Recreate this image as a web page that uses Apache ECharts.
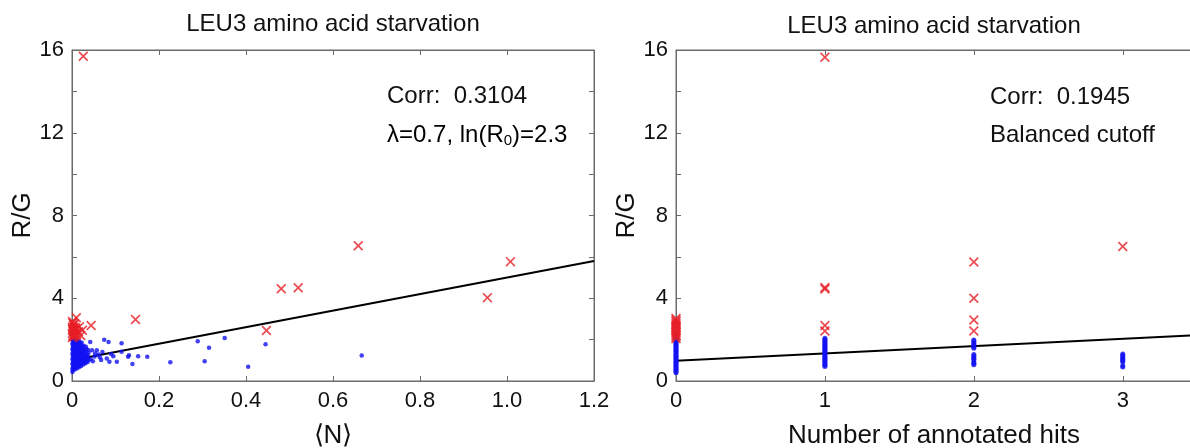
<!DOCTYPE html>
<html>
<head>
<meta charset="utf-8">
<style>
    html, body { margin: 0; padding: 0; background: #fff; }
    #chart { width: 1190px; height: 448px; }
</style>
</head>
<body>
<div id="chart"></div>
<script src="https://cdn.jsdelivr.net/npm/echarts@6/dist/echarts.min.js"></script>
<script>
    // left panel: <N> vs R/G
    var leftBlue = [
        [0.001,0.43],[0.002,0.52],[0.001,0.61],[0.003,0.68],[0.002,0.77],[0.001,0.84],[0.003,0.93],[0.002,1.01],
        [0.001,1.08],[0.003,1.17],[0.002,1.24],[0.001,1.33],[0.003,1.41],[0.002,1.49],[0.001,1.56],[0.003,1.64],
        [0.002,1.73],[0.001,1.81],[0.003,1.88],[0.002,1.97],[0.001,2.05],[0.003,2.12],[0.002,2.19],
        [0.006,0.55],[0.007,0.63],[0.006,0.72],[0.008,0.80],[0.007,0.88],[0.006,0.96],[0.008,1.04],[0.007,1.12],
        [0.006,1.20],[0.008,1.29],[0.007,1.37],[0.006,1.45],[0.008,1.53],[0.007,1.61],[0.006,1.70],[0.008,1.78],
        [0.007,1.86],[0.006,1.94],[0.008,2.02],[0.007,2.10],
        [0.011,0.60],[0.012,0.69],[0.011,0.78],[0.013,0.86],[0.012,0.94],[0.011,1.02],[0.013,1.10],[0.012,1.19],
        [0.011,1.27],[0.013,1.35],[0.012,1.43],[0.011,1.52],[0.013,1.60],[0.012,1.68],[0.011,1.77],[0.013,1.85],
        [0.012,1.93],[0.011,2.02],
        [0.016,0.66],[0.017,0.75],[0.018,0.84],[0.016,0.92],[0.017,1.00],[0.018,1.09],[0.016,1.17],[0.017,1.26],
        [0.018,1.34],[0.016,1.42],[0.017,1.51],[0.018,1.59],[0.016,1.67],[0.017,1.76],[0.018,1.85],[0.016,1.93],
        [0.021,0.73],[0.022,0.82],[0.023,0.90],[0.021,0.99],[0.022,1.07],[0.023,1.16],[0.021,1.24],[0.022,1.33],
        [0.023,1.41],[0.021,1.50],[0.022,1.59],[0.023,1.68],[0.021,1.77],[0.022,1.86],
        [0.026,0.80],[0.027,0.89],[0.028,0.98],[0.026,1.06],[0.027,1.15],[0.028,1.24],[0.026,1.32],[0.027,1.41],
        [0.028,1.50],[0.026,1.60],[0.027,1.70],
        [0.031,0.86],[0.033,0.95],[0.032,1.04],[0.031,1.13],[0.033,1.22],[0.032,1.31],[0.031,1.42],[0.033,1.55],
        [0.032,1.66],
        [0.036,0.92],[0.038,1.02],[0.037,1.12],[0.036,1.25],[0.038,1.36],[0.037,1.50],
        [0.042,1.89],[0.046,1.49],[0.053,1.33],[0.057,1.49],[0.043,1.05],[0.048,0.95],[0.052,1.18],[0.061,1.28],
        [0.067,1.01],[0.074,2.00],[0.080,1.09],[0.084,1.89],[0.086,0.93],[0.070,1.40],[0.064,1.15],[0.090,1.30],
        [0.095,1.20],[0.103,0.93],[0.114,1.41],[0.114,1.82],[0.129,1.17],[0.131,1.24],[0.139,0.82],[0.152,1.20],
        [0.173,1.17],[0.226,0.91],[0.289,1.92],[0.305,0.96],[0.315,1.61],[0.351,2.08],[0.405,0.69],[0.445,1.78],
        [0.666,1.23]
    ];
    var leftRed = [
        [0.026,15.7],[0.658,6.54],[1.008,5.77],[0.955,4.03],[0.481,4.46],[0.520,4.51],[0.447,2.44],[0.146,2.97],
        [0.044,2.68],[0.010,3.06],[0.017,2.62],[0.015,2.38],[0.008,2.50],
        [0.001,2.10],[0.002,2.20],[0.001,2.30],[0.003,2.40],[0.002,2.50],[0.001,2.60],[0.003,2.70],[0.002,2.80],
        [0.001,2.88],[0.005,2.15],[0.006,2.28],[0.005,2.45],[0.006,2.60],[0.005,2.75],[0.009,2.20],[0.010,2.35],
        [0.009,2.55],[0.011,2.25],[0.020,2.20],[0.024,2.45]
    ];
    var leftFit = [[0, 1.0], [1.2, 5.8]];

    // right panel: number of annotated hits vs R/G
    var hitsBlue = {
        0: [0.40,0.46,0.52,0.57,0.63,0.69,0.74,0.80,0.86,0.91,0.97,1.03,1.08,1.14,1.20,1.25,1.31,1.37,1.42,
            1.48,1.54,1.59,1.65,1.71,1.76,1.82,1.88,1.93,1.99,2.05,2.10,2.16],
        1: [0.70,0.76,0.82,0.87,0.93,0.99,1.04,1.10,1.16,1.21,1.27,1.33,1.38,1.44,1.50,1.55,1.61,1.67,1.72,
            1.78,1.84,1.89,1.95,2.01,2.07],
        2: [0.78,0.84,0.90,1.02,1.08,1.14,1.22,1.28,1.58,1.64,1.70,1.78,1.84,1.92,1.98],
        3: [0.68,0.74,0.92,0.98,1.04,1.10,1.16,1.24,1.30]
    };
    var hitsRed = {
        0: [2.05,2.12,2.20,2.27,2.35,2.42,2.50,2.57,2.65,2.72,2.80,2.88,2.95,3.02],
        1: [15.65,4.45,4.52,2.68,2.42],
        2: [5.75,4.00,2.95,2.42],
        3: [6.50]
    };
    var rightFit = [[0, 0.98], [3.465, 2.21]];

    var yTicks = [0, 4, 8, 12, 16];

    var font = "'Liberation Sans', Arial, Helvetica, sans-serif";
    var axisColor = '#6b6b6b';
    var red = '#e61e25';
    var blue = '#1212f2';
    var cross = 'path://M0,1.2L1.2,0L5,3.8L8.8,0L10,1.2L6.2,5L10,8.8L8.8,10L5,6.2L1.2,10L0,8.8L3.8,5Z';

    function toPairs(obj) {
        var out = [];
        Object.keys(obj).forEach(function (k) {
            obj[k].forEach(function (v) { out.push([+k, v]); });
        });
        return out;
    }

    function yAxisMain(grid, name, gap) {
        return {
            type: 'value', gridIndex: grid, min: 0, max: 16, interval: 2,
            name: name, nameLocation: 'middle', nameGap: gap, nameRotate: 90,
            nameTextStyle: { fontFamily: font, fontSize: 26, color: '#111' },
            axisLine: { show: true, onZero: false, lineStyle: { color: axisColor } },
            axisTick: { show: true, inside: true, length: 5, lineStyle: { color: axisColor } },
            axisLabel: {
                fontFamily: font, fontSize: 22, color: '#111', margin: 8,
                formatter: function (v) { return yTicks.indexOf(v) >= 0 ? String(v) : ''; }
            },
            splitLine: { show: false }
        };
    }
    function yAxisBox(grid) {
        return {
            type: 'value', gridIndex: grid, min: 0, max: 16, interval: 2, position: 'right',
            axisLine: { show: true, onZero: false, lineStyle: { color: axisColor } },
            axisTick: { show: true, inside: true, length: 5, lineStyle: { color: axisColor } },
            axisLabel: { show: false }, splitLine: { show: false }
        };
    }
    function xAxisMain(grid, max, interval, name, fmt) {
        return {
            type: 'value', gridIndex: grid, min: 0, max: max, interval: interval,
            name: name, nameLocation: 'middle', nameGap: 42,
            nameTextStyle: { fontFamily: font, fontSize: 26, color: '#111' },
            axisLine: { show: true, onZero: false, lineStyle: { color: axisColor } },
            axisTick: { show: true, inside: true, length: 5, lineStyle: { color: axisColor } },
            axisLabel: { fontFamily: font, fontSize: 22, color: '#111', margin: 9, formatter: fmt },
            splitLine: { show: false }
        };
    }
    function xAxisBox(grid, max, interval) {
        return {
            type: 'value', gridIndex: grid, min: 0, max: max, interval: interval, position: 'top',
            axisLine: { show: true, onZero: false, lineStyle: { color: axisColor } },
            axisTick: { show: true, inside: true, length: 5, lineStyle: { color: axisColor } },
            axisLabel: { show: false }, splitLine: { show: false }
        };
    }

    var chart = echarts.init(document.getElementById('chart'));
    var option = {
        backgroundColor: '#fff',
        animation: false,
        grid: [
            { left: 72, top: 50, width: 522, height: 331, outerBoundsMode: 'none', containLabel: false,
              show: true, borderColor: axisColor, borderWidth: 1 },
            { left: 676, top: 50, width: 516, height: 331, outerBoundsMode: 'none', containLabel: false,
              show: true, borderColor: axisColor, borderWidth: 1 }
        ],
        xAxis: [
            xAxisMain(0, 1.2, 0.2, '\u27e8N\u27e9', function (v) {
                if (v === 0) return '0';
                return (Math.round(v * 10) / 10).toFixed(1);
            }),
            xAxisMain(1, 3.465, 1, 'Number of annotated hits', function (v) {
                return Number.isInteger(v) ? String(v) : '';
            }),
            xAxisBox(0, 1.2, 0.2),
            xAxisBox(1, 3.465, 1)
        ],
        yAxis: [
            yAxisMain(0, 'R/G', 33),
            yAxisMain(1, 'R/G', 33),
            yAxisBox(0)
        ],
        series: [
            {
                type: 'line', xAxisIndex: 0, yAxisIndex: 0, data: leftFit,
                symbol: 'none', lineStyle: { color: '#000', width: 2 }, z: 2
            },
            {
                type: 'scatter', xAxisIndex: 0, yAxisIndex: 0, data: leftBlue,
                symbol: 'circle', symbolSize: 4.5, itemStyle: { color: blue }, z: 3
            },
            {
                type: 'scatter', xAxisIndex: 0, yAxisIndex: 0, data: leftRed,
                symbol: cross, symbolSize: 10, itemStyle: { color: red }, z: 4
            },
            {
                type: 'line', xAxisIndex: 1, yAxisIndex: 1, data: rightFit,
                symbol: 'none', lineStyle: { color: '#000', width: 2 }, z: 2
            },
            {
                type: 'scatter', xAxisIndex: 1, yAxisIndex: 1, data: toPairs(hitsBlue),
                symbol: 'circle', symbolSize: 5, itemStyle: { color: blue }, z: 3
            },
            {
                type: 'scatter', xAxisIndex: 1, yAxisIndex: 1, data: toPairs(hitsRed),
                symbol: cross, symbolSize: 10, itemStyle: { color: red }, z: 4
            }
        ],
        graphic: [
            {
                type: 'text', x: 333, y: 24,
                style: { text: 'LEU3 amino acid starvation', font: '24px ' + font, fill: '#111', align: 'center', verticalAlign: 'middle' }
            },
            {
                type: 'text', x: 934, y: 26,
                style: { text: 'LEU3 amino acid starvation', font: '24px ' + font, fill: '#111', align: 'center', verticalAlign: 'middle' }
            },
            {
                type: 'text', x: 387, y: 96,
                style: { text: 'Corr:  0.3104', font: '24px ' + font, fill: '#111', align: 'left', verticalAlign: 'middle' }
            },
            {
                type: 'text', x: 387, y: 135,
                style: {
                    text: '{a|\u03bb=0.7, ln(R}{s|0}{a|)=2.3}',
                    align: 'left', verticalAlign: 'middle',
                    rich: {
                        a: { fontFamily: font, fontSize: 24, color: '#111', lineHeight: 26 },
                        s: { fontFamily: font, fontSize: 15, color: '#111', lineHeight: 10, verticalAlign: 'bottom' }
                    }
                }
            },
            {
                type: 'text', x: 990, y: 97,
                style: { text: 'Corr:  0.1945', font: '24px ' + font, fill: '#111', align: 'left', verticalAlign: 'middle' }
            },
            {
                type: 'text', x: 990, y: 135,
                style: { text: 'Balanced cutoff', font: '24px ' + font, fill: '#111', align: 'left', verticalAlign: 'middle' }
            }
        ]
    };
    chart.setOption(option);
</script>
</body>
</html>
